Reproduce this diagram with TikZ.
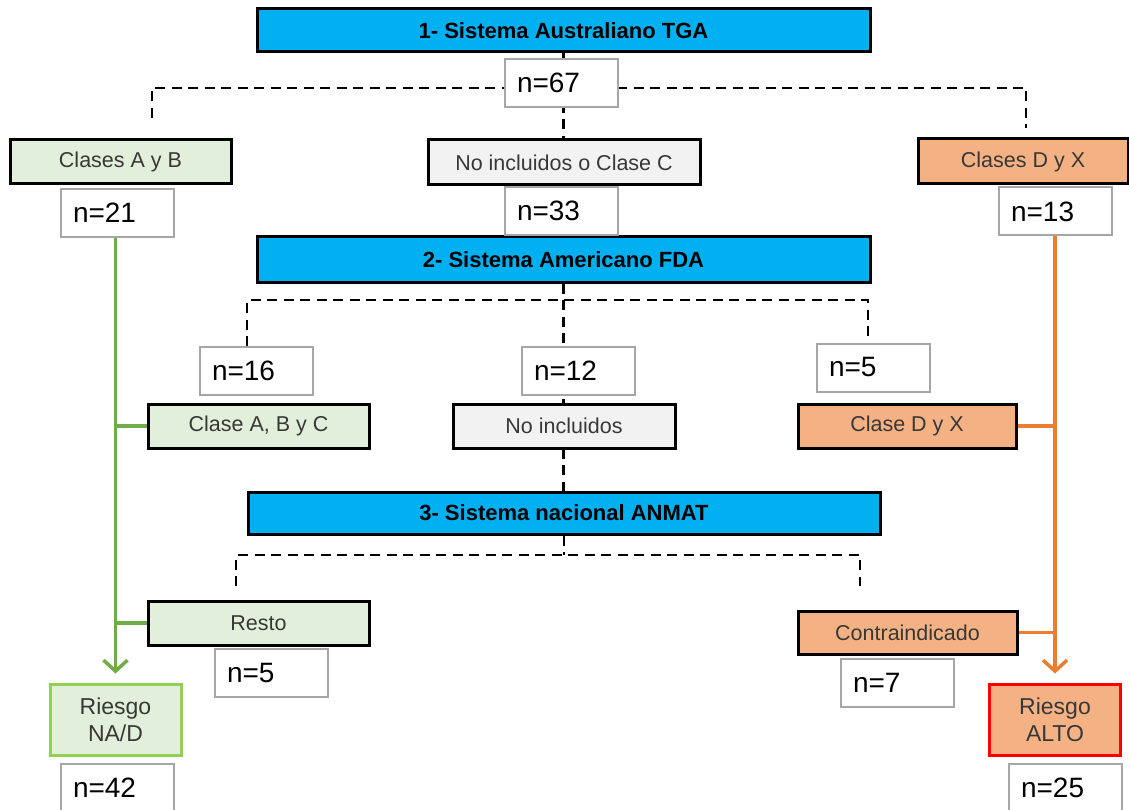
\documentclass[tikz,border=0pt]{standalone}
\usepackage{fontspec}
\setmainfont{Liberation Sans}
\usetikzlibrary{arrows.meta,backgrounds}
\definecolor{tblue}{HTML}{00B0F0}
\definecolor{gfill}{HTML}{E2EFDA}
\definecolor{grfill}{HTML}{F2F2F2}
\definecolor{ofill}{HTML}{F4B183}
\definecolor{gline}{HTML}{70AD47}
\definecolor{oline}{HTML}{ED7D31}
\definecolor{gbord}{HTML}{92D050}
\definecolor{nbord}{HTML}{A6A6A6}
\definecolor{txtg}{HTML}{383838}
\begin{document}
\begin{tikzpicture}[x=1pt,y=-1pt,
  title/.style={draw=black,line width=3pt,fill=tblue,inner sep=0pt,text=black,font=\fontsize{22}{26}\selectfont\bfseries},
  cls/.style={draw=black,line width=3pt,inner sep=0pt,text=txtg,font=\fontsize{21.5}{25}\selectfont},
  grn/.style={cls,fill=gfill},
  gry/.style={cls,fill=grfill},
  org/.style={cls,fill=ofill},
  nbox/.style={draw=nbord,line width=2pt,fill=white,inner sep=0pt,inner xsep=12pt,text width=89pt,align=left,minimum height=48pt,font=\fontsize{28}{32}\selectfont},
  risk/.style={line width=3pt,inner sep=0pt,align=center,text=txtg,font=\fontsize{23}{27}\selectfont,minimum width=131pt,minimum height=71pt},
  dsh/.style={draw=black,line width=2.3pt,dash pattern=on 10pt off 6.5pt},
  gconn/.style={draw=gline,line width=3.5pt},
  oconn/.style={draw=oline,line width=3.5pt},
  tip/.style={-{Straight Barb[length=11pt,width=24pt,line width=3.5pt]},shorten >=9pt}
]
\useasboundingbox (0,0) rectangle (1129,810);
% titles
\node[title,minimum width=613pt,minimum height=43pt] (t1) at (563.5,30.5) {1- Sistema Australiano TGA};
\node[title,minimum width=613pt,minimum height=45pt] (t2) at (563.5,259.5) {2- Sistema Americano FDA};
\node[title,minimum width=632pt,minimum height=42pt] (t3) at (564,513) {3- Sistema nacional ANMAT};
% level 1
\node[nbox] (n67) at (561.5,83) {n=67};
\node[grn,minimum width=221pt,minimum height=44pt] (cAB) at (120.5,162) {Clases A y B};
\node[gry,minimum width=272pt,minimum height=45pt] (ncC) at (564,162.5) {No incluidos o Clase C};
\node[org,minimum width=210pt,minimum height=45pt] (cDX) at (1023,161.5) {Clases D y X};
\node[nbox] (n21) at (117.5,213) {n=21};
\node[nbox] (n33) at (561.5,211) {n=33};
\node[nbox] (n13) at (1055.5,211.5) {n=13};
% level 2
\node[nbox] (n16) at (256.5,370.5) {n=16};
\node[nbox] (n12) at (578.5,370.5) {n=12};
\node[nbox] (n5a) at (873.5,367.5) {n=5};
\node[grn,minimum width=221pt,minimum height=44pt] (cABC) at (258.5,426) {Clase A, B y C};
\node[gry,minimum width=222pt,minimum height=44pt] (ncI) at (564,426) {No incluidos};
\node[org,minimum width=218pt,minimum height=44pt] (cDX2) at (907,426) {Clase D y X};
% level 3
\node[grn,minimum width=221pt,minimum height=44pt] (resto) at (258.5,623) {Resto};
\node[nbox] (n5b) at (271.5,673) {n=5};
\node[org,minimum width=219pt,minimum height=43pt] (contra) at (907.5,632.5) {Contraindicado};
\node[nbox] (n7) at (897.5,683) {n=7};
% results
\node[risk,draw=gbord,fill=gfill] (rNA) at (115.5,719.5) {Riesgo\\NA/D};
\node[nbox] (n42) at (117.5,788) {n=42};
\node[risk,draw=red,fill=ofill] (rALTO) at (1055,719.5) {Riesgo\\ALTO};
\node[nbox] (n25) at (1065.5,788) {n=25};
% connectors
\coordinate (j1) at (563.5,88);
\coordinate (e1L) at (152,118);
\coordinate (e1R) at (1026,128);
\coordinate (j2) at (563.5,300);
\coordinate (e2L) at (247,346);
\coordinate (e2R) at (868,343);
\coordinate (j3) at (564,555);
\coordinate (e3L) at (236,586);
\coordinate (e3R) at (860,586);
\begin{scope}[on background layer]
\draw[dsh] (t1.south) -- (t1.south |- ncC.north);
\draw[dsh] (e1L) |- (j1) -| (e1R);
\draw[dsh] (t2.south) -- (t2.south |- t3.north);
\draw[dsh] (e2L) |- (j2) -| (e2R);
\draw[dsh] (t3.south) -- (j3);
\draw[dsh] (e3L) |- (j3) -| (e3R);
\draw[gconn,tip] (n21.south -| rNA.north) -- (rNA.north);
\draw[gconn] (cABC.west) -- (cABC.west -| rNA.north);
\draw[gconn] (resto.west) -- (resto.west -| rNA.north);
\draw[oconn,tip] (n13.south -| rALTO.north) -- (rALTO.north);
\draw[oconn] (cDX2.east) -- (cDX2.east -| rALTO.north);
\draw[oconn] (contra.east) -- (contra.east -| rALTO.north);
\end{scope}
\end{tikzpicture}
\end{document}
